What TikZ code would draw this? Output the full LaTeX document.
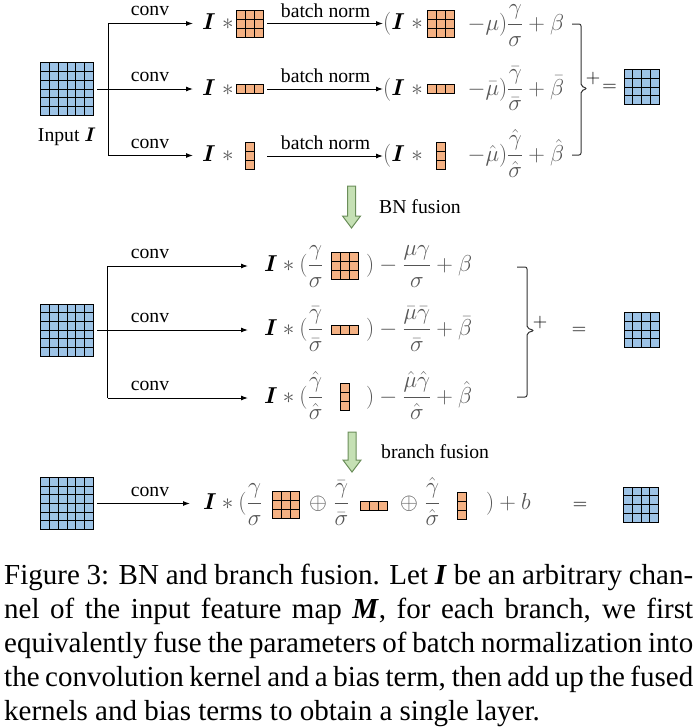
\RequirePackage{fix-cm}
\documentclass[tikz,border=0pt]{standalone}
\usepackage{amsmath,bm}
\usepackage[no-math]{fontspec}
\setmainfont{Liberation Serif}
\usetikzlibrary{arrows.meta,calc}
\definecolor{gblue}{HTML}{9DC3E6}
\definecolor{korange}{HTML}{F4B183}
\definecolor{agreen}{HTML}{C5E0B4}
\definecolor{agreenline}{HTML}{6B8E5A}
\definecolor{fcol}{HTML}{555555}
\newcommand{\BI}{\textcolor{black}{\bm{I}}}
% name, position, cols, rows, cell, colour
\newcommand{\gridnode}[6]{%
  \node[gridbox, fill=#6, minimum width={#3*#5pt}, minimum height={#4*#5pt}] (#1) at (#2) {};
  \ifnum#3>1\relax
    \foreach \k in {2,...,#3} {\draw[gridline] ($(#1.north west)+({(\k-1)*#5},0)$) -- ($(#1.south west)+({(\k-1)*#5},0)$);}
  \fi
  \ifnum#4>1\relax
    \foreach \k in {2,...,#4} {\draw[gridline] ($(#1.north west)+(0,{(\k-1)*#5})$) -- ($(#1.north east)+(0,{(\k-1)*#5})$);}
  \fi
}
\tikzset{
  gridbox/.style={draw=black, line width=1pt, inner sep=0pt, outer sep=0pt, rectangle},
  gridline/.style={black, line width=1pt},
  conn/.style={black, line width=1pt},
  arr/.style={conn, -{Latex[length=7pt,width=5pt]}},
  lbl/.style={font=\fontsize{19.7}{23}\selectfont, inner sep=0pt},
  fml/.style={font=\fontsize{23}{27}\selectfont, inner sep=0pt, text=fcol, anchor=base west},
  sym/.style={font=\fontsize{20}{24}\selectfont, inner sep=0pt},
  bigarrow/.style={fill=agreen, draw=agreenline, line width=1pt, line join=miter},
  brc/.style={draw=black!80, line width=1pt, rounded corners=2pt},
  capline/.style={font=\fontsize{29}{34}\selectfont, inner sep=0pt, anchor=base west},
}
\begin{document}
\begin{tikzpicture}[x=1pt,y=-1pt]
\useasboundingbox (0,0) rectangle (697,728);
% ================= top section =================
\gridnode{in1}{67,89}{6}{6}{8.667}{gblue}
\node[lbl, anchor=base] (inlbl) at (67,141) {Input $\bm I$};
\coordinate (t1) at (108,23.5);
\coordinate (t3) at (108,155.5);
\draw[conn] (t1) -- (t3);
\node[fml] (a1) at (202,29.5) {$\BI\;*$};
\node[fml] (a2) at (202,95) {$\BI\;*$};
\node[fml] (a3) at (202,161.5) {$\BI\;*$};
\draw[arr, shorten >=9pt] (t1) -- (t1 -| a1.west);
\draw[arr, shorten <=4pt, shorten >=9pt] (in1.east) -- (in1.east -| a2.west);
\draw[arr, shorten >=9pt] (t3) -- (t3 -| a3.west);
\node[lbl, anchor=base] (c1) at (150,15.5) {conv};
\node[lbl, anchor=base] (c2) at (150,81.5) {conv};
\node[lbl, anchor=base] (c3) at (150,148) {conv};
\gridnode{k1}{249.5,23.5}{3}{3}{9}{korange}
\gridnode{k2}{249.5,89}{3}{1}{9}{korange}
\gridnode{k3}{249.5,156}{1}{3}{9}{korange}
\node[fml] (f1) at (383,29.5) {$(\BI\;*$};
\node[fml] (f2) at (383,95) {$(\BI\;*$};
\node[fml] (f3) at (383,161.5) {$(\BI\;*$};
\draw[arr] ($(k1.east)+(4,0)$) -- (k1.east -| f1.west);
\draw[arr] ($(k2.east)+(4,0)$) -- (k2.east -| f2.west);
\draw[arr] ($(k1.east |- k3.east)+(4,0)$) -- (k3.east -| f3.west);
\node[lbl, anchor=base] (bn1) at (325.5,17) {batch norm};
\node[lbl, anchor=base] (bn2) at (325.5,82.5) {batch norm};
\node[lbl, anchor=base] (bn3) at (325.5,149) {batch norm};
\gridnode{fk1}{440.5,23.5}{3}{3}{9}{korange}
\gridnode{fk2}{440.5,89}{3}{1}{9}{korange}
\gridnode{fk3}{440.5,156}{1}{3}{9}{korange}
\node[fml] (g1) at (467.5,30.5) {$-\mu)\dfrac{\gamma}{\sigma}+\beta$};
\node[fml] (g2) at (467.5,95) {$-\bar\mu)\dfrac{\bar\gamma}{\bar\sigma}+\bar\beta$};
\node[fml] (g3) at (467.5,161.5) {$-\hat\mu)\dfrac{\hat\gamma}{\hat\sigma}+\hat\beta$};
\coordinate (b1t) at (572,24);
\coordinate (b1m) at (587,88.5);
\coordinate (b1b) at (572,155);
\draw[brc] (b1t) -- (581,24) -- (581,86) -- (b1m) -- (581,91) -- (581,155) -- (b1b);
\node[sym] (plus1) at (593,78) {$+$};
\node[sym] (eq1) at (609.5,88) {$=$};
\gridnode{out1}{641.5,87}{4}{4}{8.75}{gblue}
% ================= BN fusion arrow =================
\draw[bigarrow] (347.5,186) -- (355.5,186) -- (355.5,216) -- (360.5,216) -- (351.5,228) -- (342.5,216) -- (347.5,216) -- cycle;
\node[lbl, anchor=west] (bnf) at (379,207) {BN fusion};
% ================= middle section =================
\gridnode{in2}{67,330}{6}{6}{8.667}{gblue}
\coordinate (m1) at (107.5,266);
\coordinate (m3) at (107.5,398);
\draw[conn] (m1) -- (m3);
\node[lbl, anchor=base] (mc1) at (150,258) {conv};
\node[lbl, anchor=base] (mc2) at (150,322) {conv};
\node[lbl, anchor=base] (mc3) at (150,390) {conv};
\node[fml] (ma1) at (264,271.5) {$\BI*(\dfrac{\gamma}{\sigma}$};
\node[fml] (ma2) at (264,335.5) {$\BI*(\dfrac{\bar\gamma}{\bar\sigma}$};
\node[fml] (ma3) at (264,403.5) {$\BI*(\dfrac{\hat\gamma}{\hat\sigma}$};
\draw[arr, shorten >=16pt] (m1) -- (m1 -| ma1.west);
\draw[arr, shorten <=4pt, shorten >=16pt] (in2.east) -- (in2.east -| ma2.west);
\draw[arr, shorten >=16pt] (m3) -- (m3 -| ma3.west);
\gridnode{mk1}{344.5,266}{3}{3}{9}{korange}
\gridnode{mk2}{344.5,330}{3}{1}{9}{korange}
\gridnode{mk3}{345,397}{1}{3}{9}{korange}
\node[fml] (mb1) at (366,271.5) {$)-\dfrac{\mu\gamma}{\sigma}+\beta$};
\node[fml] (mb2) at (366,335.5) {$)-\dfrac{\bar\mu\bar\gamma}{\bar\sigma}+\bar\beta$};
\node[fml] (mb3) at (366,403.5) {$)-\dfrac{\hat\mu\hat\gamma}{\hat\sigma}+\hat\beta$};
\coordinate (b2t) at (517,267);
\coordinate (b2m) at (534,330.5);
\coordinate (b2b) at (517,397);
\draw[brc] (b2t) -- (527,267) -- (527,328) -- (b2m) -- (527,333) -- (527,397) -- (b2b);
\node[sym] (plus2) at (540,322) {$+$};
\node[sym] (eq2) at (579,331) {$=$};
\gridnode{out2}{641.5,330}{4}{4}{8.75}{gblue}
% ================= branch fusion arrow =================
\draw[bigarrow] (348,432) -- (356,432) -- (356,460) -- (361,460) -- (352,472) -- (343,460) -- (348,460) -- cycle;
\node[lbl, anchor=west] (brf) at (381,452) {branch fusion};
% ================= bottom section =================
\gridnode{in3}{67,503.5}{6}{6}{8.667}{gblue}
\node[lbl, anchor=base] (bc) at (150,496) {conv};
\node[fml] (ba) at (203,509.5) {$\BI*(\dfrac{\gamma}{\sigma}$};
\draw[arr, shorten <=4pt, shorten >=13pt] (in3.east) -- (in3.east -| ba.west);
\gridnode{bk1}{285.5,505}{3}{3}{9}{korange}
\node[fml] (bb1) at (309,509.5) {$\oplus\;\dfrac{\bar\gamma}{\bar\sigma}$};
\gridnode{bk2}{373.5,506}{3}{1}{9}{korange}
\node[fml] (bb2) at (400,509.5) {$\oplus\;\dfrac{\hat\gamma}{\hat\sigma}$};
\gridnode{bk3}{462,506}{1}{3}{9}{korange}
\node[fml] (bb3) at (486,509.5) {$)+b$};
\node[sym] (eq3) at (580,506) {$=$};
\gridnode{out3}{641,504.5}{4}{4}{8.75}{gblue}
% ================= caption =================
\node[capline] (cap1) at (4,584) {\makebox[689pt][s]{Figure 3: BN and branch fusion. Let \textbf{\textit{I}} be an arbitrary chan-}};
\node[capline] (cap2) at (4,618) {\makebox[689pt][s]{nel of the input feature map \textbf{\textit{M}}, for each branch, we first}};
\node[capline] (cap3) at (4,652) {\makebox[689pt][s]{equivalently fuse the parameters of batch normalization into}};
\node[capline] (cap4) at (4,686) {\makebox[689pt][s]{the convolution kernel and a bias term, then add up the fused}};
\node[capline] (cap5) at (4,720) {kernels and bias terms to obtain a single layer.};
\end{tikzpicture}
\end{document}
